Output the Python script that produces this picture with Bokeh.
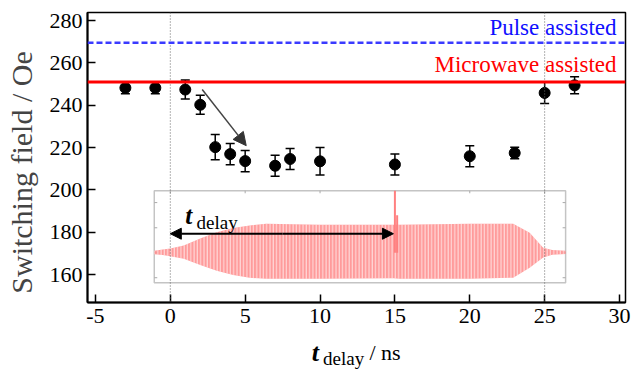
from bokeh.plotting import figure
from bokeh.layouts import column
from bokeh.models import (Range1d, Span, Whisker, TeeHead, ColumnDataSource, Arrow,
                          NormalHead, FixedTicker)
from bokeh.core.properties import value
from bokeh.embed import file_html
from bokeh.resources import INLINE

# ---- data ----
t_delay = [-3, -1, 1, 2, 3, 4, 5, 7, 8, 10, 15, 20, 23, 25, 27]
h_sw = [248.2, 248.2, 247.4, 240.2, 220.2, 216.9, 213.6, 211.4, 214.6, 213.5, 212.0, 215.9, 217.4, 245.8, 249.4]
h_err = [2.8, 2.8, 4.5, 4.5, 6.0, 5.0, 5.0, 5.0, 5.0, 6.5, 5.0, 5.0, 2.7, 5.0, 4.0]

pulse_level = 269.5
mw_level = 251.0
marker_lines = [0, 25]

x_ticks = [-5, 0, 5, 10, 15, 20, 25, 30]
y_ticks = [160, 180, 200, 220, 240, 260, 280]

# inset waveform envelope
wave_t = [-1.07, -0.5, 0.0, 0.9, 2.0, 3.1, 4.2, 5.3, 6.4, 10.0, 14.9, 15.3, 20.0, 22.9, 24.0, 24.9, 25.5, 26.4]
wave_hi = [171.3, 171.8, 172.3, 173.7, 177.0, 180.0, 182.0, 183.2, 184.0, 183.5, 183.5, 183.5, 184.0, 184.0, 179.8, 172.7, 171.6, 171.2]
wave_lo = [169.6, 169.2, 168.6, 167.5, 164.5, 161.8, 159.8, 158.5, 158.0, 158.0, 158.3, 158.0, 158.0, 158.5, 163.2, 168.0, 169.4, 169.7]
spike_t = [15.0, 15.15]
spike_top = [199.6, 188.0]
spike_base = 170.3

inset_xticks = [0, 5, 10, 15, 20, 25]
inset_yticks = [194.0, 182.1, 170.3, 158.5]

SERIF = "Liberation Serif"
NB = "\u00a0"

p = figure(width=637, height=336, output_backend="svg", toolbar_location=None,
           x_range=Range1d(-5.53, 30.4), y_range=Range1d(146.8, 283.8),
           min_border_left=87, min_border_right=12, min_border_top=12, min_border_bottom=34)
p.grid.visible = False
p.outline_line_color = "black"
p.outline_line_width = 1.5

for ax in (p.xaxis[0], p.yaxis[0]):
    ax.axis_line_width = 2
    ax.axis_line_color = "black"
    ax.major_tick_in = 8
    ax.major_tick_out = 0
    ax.major_tick_line_width = 1.5
    ax.minor_tick_line_color = None
    ax.major_label_text_font = SERIF
    ax.major_label_text_font_size = "22px"
    ax.major_label_text_color = "black"

p.xaxis.ticker = FixedTicker(ticks=x_ticks)
p.xaxis.major_label_overrides = {t: str(t) for t in x_ticks}
p.xaxis.major_label_standoff = 6
p.yaxis.ticker = FixedTicker(ticks=y_ticks)
p.yaxis.major_label_standoff = 5
p.yaxis.axis_label = "Switching field / Oe" + NB * 4
p.yaxis.axis_label_text_font = SERIF
p.yaxis.axis_label_text_font_size = "30px"
p.yaxis.axis_label_text_font_style = "normal"
p.yaxis.axis_label_standoff = 9

# vertical dotted markers
for loc in marker_lines:
    p.add_layout(Span(location=loc, dimension="height", line_color="#666666",
                      line_dash="1 2", line_width=1))

# reference levels
p.add_layout(Span(location=pulse_level, dimension="width", line_color="#3a3aff",
                  line_dash="6 3", line_width=2.5))
p.add_layout(Span(location=mw_level, dimension="width", line_color="#ff0000", line_width=3))
p.text(x=[29.8], y=[276.6], text=["Pulse assisted"], text_align="right",
       text_baseline="alphabetic", text_font=value(SERIF), text_font_size="23px",
       text_color="#0f0fff")
p.text(x=[29.8], y=[259.2], text=["Microwave assisted"], text_align="right",
       text_baseline="alphabetic", text_font=value(SERIF), text_font_size="23px",
       text_color="#ff0000")

# inset
p.quad(left=[wave_t[0]], right=[wave_t[-1]], bottom=[156.1], top=[199.6],
       fill_color=None, line_color="#c4c4c4", line_width=1.5)
p.segment(x0=inset_xticks, x1=inset_xticks, y0=[199.6] * len(inset_xticks),
          y1=[198.4] * len(inset_xticks), line_color="#aaaaaa", line_width=1)
p.segment(x0=[wave_t[0]] * len(inset_yticks), x1=[wave_t[0] + 0.2] * len(inset_yticks),
          y0=inset_yticks, y1=inset_yticks, line_color="#aaaaaa", line_width=1)
p.segment(x0=[wave_t[-1]] * len(inset_yticks), x1=[wave_t[-1] - 0.2] * len(inset_yticks),
          y0=inset_yticks, y1=inset_yticks, line_color="#aaaaaa", line_width=1)
p.varea(x=wave_t, y1=wave_lo, y2=wave_hi, fill_color="#ff8a8a", fill_alpha=0.85,
        hatch_pattern="vertical_line", hatch_color="white", hatch_alpha=0.7,
        hatch_scale=3.3, hatch_weight=1)
p.segment(x0=spike_t, x1=spike_t, y0=[spike_base] * len(spike_t), y1=spike_top,
          line_color="#ff8080", line_width=2)
p.add_layout(Arrow(x_start=7.5, y_start=179.3, x_end=0.0, y_end=179.3, line_width=2,
                   line_color="black",
                   end=NormalHead(size=11, fill_color="black", line_color="black")))
p.add_layout(Arrow(x_start=7.5, y_start=179.3, x_end=14.9, y_end=179.3, line_width=2,
                   line_color="black",
                   end=NormalHead(size=11, fill_color="black", line_color="black")))
p.text(x=[1.0], y=[187.7], text=["t"], text_font=value(SERIF), text_font_size="25px",
       text_font_style="bold italic", text_baseline="alphabetic", text_color="black")
p.text(x=[1.75], y=[184.4], text=["delay"], text_font=value(SERIF), text_font_size="19px",
       text_baseline="alphabetic", text_color="black")

# data with error bars
src = ColumnDataSource(dict(x=t_delay, y=h_sw,
                            lo=[v - e for v, e in zip(h_sw, h_err)],
                            hi=[v + e for v, e in zip(h_sw, h_err)]))
p.add_layout(Whisker(base="x", lower="lo", upper="hi", source=src, line_width=1.5,
                     line_color="black",
                     lower_head=TeeHead(size=9, line_width=1.5, line_color="black"),
                     upper_head=TeeHead(size=9, line_width=1.5, line_color="black")))
p.scatter("x", "y", source=src, size=11, fill_color="black", line_color="black")

# trend arrow
p.add_layout(Arrow(x_start=2.13, y_start=247.4, x_end=5.07, y_end=220.9, line_width=1.5,
                   line_color="#444444",
                   end=NormalHead(size=13, fill_color="#333333", line_color="#333333")))

# x-axis title strip (t_delay / ns), sharing the x scale
p2 = figure(width=637, height=33, output_backend="svg", toolbar_location=None,
            x_range=p.x_range, y_range=Range1d(0, 33), x_axis_type=None, y_axis_type=None,
            min_border_left=87, min_border_right=12, min_border_top=0, min_border_bottom=0)
p2.outline_line_color = None
p2.text(x=[9.45], y=[17], text=["t"], text_font=value(SERIF), text_font_size="26px",
        text_font_style="bold italic", text_baseline="alphabetic", text_color="black")
p2.text(x=[10.2], y=[11.5], text=["delay"], text_font=value(SERIF), text_font_size="19px",
        text_baseline="alphabetic", text_color="black")
p2.text(x=[13.3], y=[17.5], text=["/ ns"], text_font=value(SERIF), text_font_size="22px",
        text_baseline="alphabetic", text_color="black")

layout = column(p, p2, spacing=0)
open("out.html", "w").write(file_html(layout, INLINE))
